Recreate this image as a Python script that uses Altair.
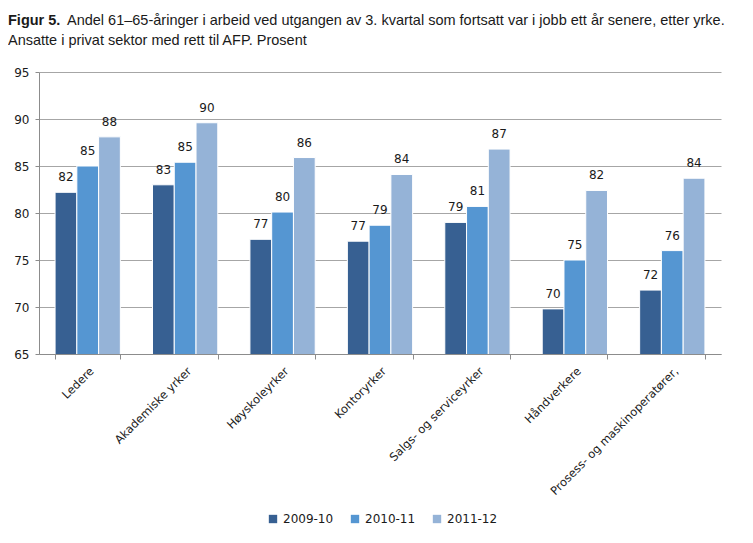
import altair as alt
import pandas as pd

categories = ["Ledere", "Akademiske yrker", "Høyskoleyrker", "Kontoryrker",
              "Salgs- og serviceyrker", "Håndverkere", "Prosess- og maskinoperatører,"]
series = ["2009-10", "2010-11", "2011-12"]
v_2009 = [82.2, 83.0, 77.2, 77.0, 79.0, 69.8, 71.8]
v_2010 = [85.0, 85.4, 80.1, 78.7, 80.7, 75.0, 76.0]
v_2011 = [88.1, 89.6, 85.9, 84.1, 86.8, 82.4, 83.7]
colors = ["#376092", "#5596D2", "#95B3D7"]
y_ticks = [65, 70, 75, 80, 85, 90, 95]

title_bold = "Figur 5."
title_line1 = "Andel 61–65-åringer i arbeid ved utgangen av 3. kvartal som fortsatt var i jobb ett år senere, etter yrke."
title_line2 = "Ansatte i privat sektor med rett til AFP. Prosent"

rows = []
for s, vals in zip(series, [v_2009, v_2010, v_2011]):
    for c, v in zip(categories, vals):
        rows.append({"kategori": c, "periode": s, "verdi": v})
df = pd.DataFrame(rows)

W, H = 682, 282
FONT = "DejaVu Sans"
TFONT = "Liberation Sans"

x = alt.X("kategori:N", sort=categories, title=None,
          scale=alt.Scale(paddingInner=0.33, paddingOuter=0.165),
          axis=alt.Axis(labelAngle=-45, labelFont=FONT, labelFontSize=11.5, labelColor="#1a1a1a",
                        domainColor="#8c8c8c", tickColor="#8c8c8c", tickSize=5,
                        tickBand="extent", labelPadding=6, labelLimit=300))
y = alt.Y("verdi:Q", title=None,
          scale=alt.Scale(domain=[65, 95], zero=False, nice=False),
          axis=alt.Axis(values=y_ticks, labelFont=FONT, labelFontSize=12, labelColor="#1a1a1a",
                        domainColor="#8c8c8c", tickColor="#8c8c8c", tickSize=4,
                        gridColor="#a6a6a6", labelPadding=6))
xo = alt.XOffset("periode:N", sort=series)

bars = alt.Chart(df).mark_bar(stroke="white", strokeWidth=1, clip=True).encode(
    x=x, y=y, xOffset=xo,
    color=alt.Color("periode:N", sort=series, title=None,
                    scale=alt.Scale(domain=series, range=colors),
                    legend=alt.Legend(orient="none", direction="horizontal", legendX=228, legendY=441,
                                      symbolType="square", symbolSize=70, symbolStrokeWidth=0,
                                      labelFont=FONT, labelFontSize=12, labelColor="#1a1a1a",
                                      columnPadding=15, symbolOffset=0))
)
labels = alt.Chart(df).mark_text(dy=-15, font=FONT, fontSize=12, color="#1a1a1a").encode(
    x=x, y=y, xOffset=xo, text=alt.Text("verdi:Q", format=".0f")
)

tb = alt.Chart(pd.DataFrame({"t": [title_bold]})).mark_text(
    font=TFONT, fontSize=14.5, fontWeight="bold", align="left", baseline="alphabetic", color="#1a1a1a"
).encode(x=alt.value(-31), y=alt.value(-47), text="t:N")
t1 = alt.Chart(pd.DataFrame({"t": [title_line1]})).mark_text(
    font=TFONT, fontSize=14.5, align="left", baseline="alphabetic", color="#1a1a1a"
).encode(x=alt.value(28), y=alt.value(-47), text="t:N")
t2 = alt.Chart(pd.DataFrame({"t": [title_line2]})).mark_text(
    font=TFONT, fontSize=14.5, align="left", baseline="alphabetic", color="#1a1a1a"
).encode(x=alt.value(-31), y=alt.value(-27), text="t:N")

chart = alt.layer(bars, labels, tb, t1, t2).properties(
    width=W, height=H,
    autosize=alt.AutoSizeParams(type="none"),
    padding={"left": 31, "top": 64, "right": 24, "bottom": 175},
).configure_view(stroke=None).configure_axisY(domain=True)

chart.save("out.html", embed_options={"renderer": "svg", "actions": False})
